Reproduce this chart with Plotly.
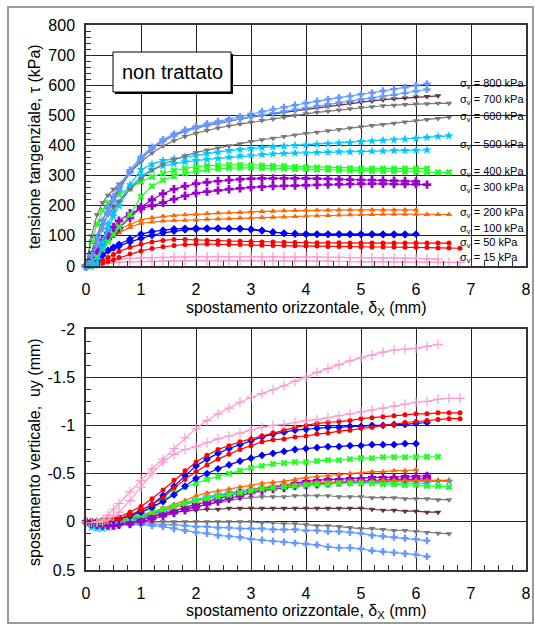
import plotly.graph_objects as go

W, H = 535, 630

# shared horizontal displacement grid (mm)
G = [0, 0.1, 0.2, 0.3, 0.4, 0.5, 0.6, 0.8, 1.0, 1.2,
     1.4, 1.6, 1.8, 2.0, 2.2, 2.4, 2.6, 2.8, 3.0, 3.2,
     3.4, 3.6, 3.8, 4.0, 4.2, 4.4, 4.6, 4.8, 5.0, 5.2,
     5.4, 5.6, 5.8, 6.0, 6.2, 6.4, 6.6, 6.8]

# ---------------- shear stress tau (kPa) ----------------
TAU_800A = [0, 35, 95, 150, 195, 232, 262, 318, 362, 395,
            420, 438, 452, 463, 472, 480, 488, 496, 505, 513,
            520, 527, 534, 541, 547, 553, 559, 564, 570, 575,
            581, 587, 593, 599, 605]
TAU_800B = [0, 20, 70, 125, 175, 215, 250, 310, 355, 390,
            415, 433, 447, 458, 467, 475, 482, 489, 495, 501,
            507, 513, 519, 525, 531, 537, 543, 548, 553, 558,
            563, 568, 574, 580, 586]
TAU_700 = [0, 45, 100, 150, 190, 225, 255, 310, 355, 390,
           415, 433, 447, 458, 466, 474, 481, 488, 494, 500,
           505, 510, 515, 520, 525, 530, 535, 540, 544, 548,
           552, 555, 558, 561, 563, 565]
TAU_600A = [0, 100, 170, 210, 235, 255, 272, 310, 345, 375,
            398, 416, 430, 441, 450, 458, 465, 471, 477, 483,
            488, 494, 500, 505, 510, 514, 518, 522, 526, 529,
            532, 534, 536, 538, 539, 540, 540]
TAU_600B = [0, 40, 90, 135, 170, 195, 215, 255, 290, 318,
            338, 353, 366, 377, 385, 392, 399, 406, 413, 419,
            424, 430, 435, 440, 444, 449, 453, 458, 462, 466,
            470, 474, 478, 482, 486, 490, 494]
TAU_500A = [0, 0, 10, 80, 140, 180, 210, 270, 320, 338,
            350, 356, 362, 368, 373, 378, 383, 387, 391, 393,
            396, 398, 400, 402, 404, 406, 408, 410, 413, 415,
            417, 419, 421, 424, 427, 430, 432]
TAU_500B = [0, 0, 5, 60, 120, 165, 200, 258, 300, 320,
            332, 340, 346, 350, 354, 357, 361, 365, 368, 370,
            372, 374, 375, 376, 377, 378, 379, 379, 380, 381,
            382, 383, 383, 384, 385]
TAU_400A = [0, 80, 140, 185, 210, 225, 237, 260, 280, 296,
            308, 317, 324, 330, 333, 335, 336, 336, 335, 334,
            333, 332, 330, 328, 327, 326, 325, 325, 324, 324,
            324, 324, 324, 324, 324]
TAU_400B = [0, 10, 30, 55, 80, 105, 130, 170, 230, 265,
            285, 298, 308, 315, 320, 323, 325, 326, 326, 325,
            324, 323, 322, 321, 320, 319, 318, 317, 316, 315,
            315, 314, 313, 312, 312, 311, 311]
TAU_300A = [0, 25, 50, 70, 90, 108, 125, 160, 195, 220,
            240, 255, 265, 273, 278, 282, 285, 288, 290, 291,
            291, 291, 291, 291, 290, 289, 288, 287, 286, 285,
            284, 283, 282, 281]
TAU_300B = [0, 30, 60, 85, 110, 130, 150, 175, 190, 200,
            210, 222, 233, 242, 247, 251, 255, 258, 261, 263,
            265, 266, 267, 268, 269, 270, 271, 272, 273, 273,
            273, 272, 272, 271, 270]
TAU_200A = [0, 20, 45, 80, 100, 112, 122, 138, 153, 160,
            165, 168, 170, 172, 174, 176, 177, 178, 180, 181,
            182, 183, 184, 185, 185, 185, 186, 186, 186, 186,
            186, 186, 186, 186]
TAU_200B = [0, 10, 30, 60, 85, 100, 110, 128, 142, 146,
            149, 151, 152, 153, 155, 156, 157, 159, 160, 161,
            162, 163, 164, 166, 167, 168, 169, 170, 171, 171,
            172, 172, 172, 172, 171, 171, 171]
TAU_100A = [0, 5, 20, 35, 50, 62, 72, 90, 106, 114,
            119, 123, 125, 126, 126, 126, 125, 124, 122, 118,
            112, 108, 107, 106, 106, 106, 106, 106, 106, 106,
            106, 106, 106, 106]
TAU_100B = [0, 15, 30, 42, 52, 60, 66, 80, 92, 102,
            110, 116, 120, 122, 123, 124, 124, 123, 121, 117,
            112, 109, 107, 106, 105, 105, 105, 105, 105, 105,
            104, 104, 104]
TAU_50A = [0, 3, 10, 18, 28, 38, 48, 62, 72, 80,
           85, 88, 88, 86, 85, 84, 83, 82, 81, 80,
           80, 79, 78, 78, 77, 77, 77, 76, 76, 76,
           76, 76, 76, 76, 76, 76, 76]
TAU_50B = [0, 2, 5, 9, 15, 21, 28, 40, 50, 58,
           64, 68, 71, 73, 73, 72, 71, 71, 70, 69,
           68, 68, 67, 66, 66, 65, 65, 64, 64, 63,
           63, 63, 62, 62, 61, 60, 60, 59]
TAU_15A = [0, 4, 10, 14, 18, 20, 22, 25, 27, 28,
           29, 30, 30, 31, 31, 31, 31, 31, 31, 31,
           31, 30, 30, 30, 30, 29, 29, 28, 28, 27,
           27, 26, 26, 25, 24, 23]
TAU_15B = [0, 2, 5, 7, 10, 12, 13, 14, 15, 16,
           17, 17, 18, 18, 18, 18, 18, 18, 18, 18,
           17, 17, 17, 16, 16, 16, 15, 15, 14, 14,
           14, 14, 13, 13, 13, 12, 12, 12]

# ---------------- vertical displacement uy (mm) ----------------
UY_800A = [0, 0.02, 0.03, 0.03, 0.03, 0.03, 0.03, 0.03, 0.02, 0.02,
           0.03, 0.03, 0.04, 0.05, 0.05, 0.06, 0.06, 0.07, 0.07, 0.07,
           0.08, 0.08, 0.08, 0.09, 0.09, 0.10, 0.10, 0.11, 0.12, 0.14,
           0.15, 0.16, 0.17, 0.18, 0.195]
UY_800B = [0, 0.02, 0.03, 0.03, 0.03, 0.03, 0.03, 0.03, 0.03, 0.04,
           0.05, 0.07, 0.09, 0.11, 0.12, 0.14, 0.15, 0.16, 0.18, 0.19,
           0.20, 0.21, 0.22, 0.23, 0.24, 0.26, 0.27, 0.27, 0.28, 0.30,
           0.31, 0.32, 0.33, 0.34, 0.36]
UY_700 = [0, 0.0, 0.0, -0.01, -0.01, -0.01, -0.02, -0.02, -0.04, -0.06,
          -0.08, -0.10, -0.11, -0.12, -0.13, -0.13, -0.14, -0.14, -0.14, -0.14,
          -0.14, -0.14, -0.14, -0.14, -0.14, -0.14, -0.14, -0.14, -0.14, -0.13,
          -0.12, -0.12, -0.11, -0.11, -0.10, -0.10]
UY_600A = [0, 0.0, 0.0, 0.0, -0.01, -0.01, -0.02, -0.03, -0.06, -0.08,
           -0.10, -0.12, -0.14, -0.16, -0.18, -0.20, -0.22, -0.24, -0.25, -0.26,
           -0.26, -0.26, -0.27, -0.27, -0.27, -0.27, -0.26, -0.26, -0.26, -0.25,
           -0.25, -0.25, -0.24, -0.24, -0.24, -0.23, -0.23]
UY_600B = [0, 0.0, 0.0, 0.0, 0.0, 0.0, 0.0, 0.0, 0.0, 0.0,
           0.0, 0.0, 0.0, 0.0, 0.0, 0.0, 0.0, 0.0, 0.0, 0.01,
           0.01, 0.02, 0.02, 0.03, 0.04, 0.04, 0.05, 0.06, 0.07, 0.07,
           0.08, 0.09, 0.09, 0.10, 0.11, 0.12, 0.125]
UY_500A = [0, 0.06, 0.07, 0.07, 0.06, 0.05, 0.03, 0.01, -0.03, -0.07,
           -0.11, -0.15, -0.19, -0.22, -0.25, -0.27, -0.29, -0.31, -0.33, -0.34,
           -0.35, -0.36, -0.37, -0.38, -0.39, -0.40, -0.40, -0.41, -0.41, -0.41,
           -0.42, -0.42, -0.42, -0.42, -0.42, -0.42, -0.42]
UY_500B = [0, 0.03, 0.04, 0.04, 0.03, 0.02, 0.01, -0.01, -0.04, -0.08,
           -0.12, -0.16, -0.20, -0.23, -0.26, -0.28, -0.30, -0.32, -0.34, -0.35,
           -0.36, -0.37, -0.38, -0.39, -0.40, -0.40, -0.41, -0.41, -0.41, -0.41,
           -0.41, -0.40, -0.40, -0.40, -0.40]
UY_400A = [0, 0.0, 0.0, -0.01, -0.01, -0.02, -0.03, -0.06, -0.10, -0.15,
           -0.22, -0.30, -0.36, -0.40, -0.44, -0.47, -0.50, -0.53, -0.56, -0.58,
           -0.60, -0.61, -0.62, -0.62, -0.63, -0.64, -0.64, -0.65, -0.66, -0.66,
           -0.67, -0.67, -0.67, -0.67, -0.675, -0.675]
UY_400B = [0, 0.0, 0.0, 0.0, -0.01, -0.01, -0.02, -0.04, -0.07, -0.10,
           -0.13, -0.16, -0.19, -0.22, -0.24, -0.26, -0.28, -0.30, -0.32, -0.34,
           -0.35, -0.36, -0.37, -0.38, -0.39, -0.39, -0.40, -0.40, -0.40, -0.40,
           -0.39, -0.39, -0.38, -0.38, -0.37, -0.37, -0.36]
UY_300A = [0, 0.01, 0.02, 0.03, 0.03, 0.03, 0.02, 0.01, -0.02, -0.05,
           -0.08, -0.11, -0.15, -0.18, -0.21, -0.24, -0.27, -0.30, -0.32, -0.34,
           -0.36, -0.38, -0.40, -0.42, -0.43, -0.44, -0.44, -0.45, -0.45, -0.46,
           -0.46, -0.46, -0.47, -0.47, -0.475]
UY_300B = [0, 0.02, 0.03, 0.04, 0.04, 0.04, 0.03, 0.02, 0.0, -0.03,
           -0.06, -0.09, -0.12, -0.15, -0.18, -0.21, -0.24, -0.27, -0.30, -0.32,
           -0.34, -0.35, -0.37, -0.38, -0.39, -0.40, -0.41, -0.42, -0.42, -0.43,
           -0.43, -0.44, -0.44, -0.44, -0.45]
UY_200A = [0, 0.0, 0.0, -0.01, -0.01, -0.02, -0.03, -0.05, -0.07, -0.10,
           -0.14, -0.18, -0.22, -0.27, -0.30, -0.32, -0.34, -0.36, -0.38, -0.40,
           -0.41, -0.42, -0.44, -0.46, -0.47, -0.48, -0.49, -0.50, -0.51, -0.52,
           -0.52, -0.53, -0.53, -0.54]
UY_200B = [0, 0.0, 0.0, -0.01, -0.01, -0.01, -0.02, -0.04, -0.06, -0.09,
           -0.12, -0.15, -0.18, -0.21, -0.24, -0.26, -0.28, -0.30, -0.33, -0.35,
           -0.37, -0.38, -0.39, -0.40, -0.41, -0.41, -0.41, -0.42, -0.42, -0.42,
           -0.43, -0.43, -0.43, -0.43, -0.43, -0.43, -0.43]
UY_100A = [0, 0.0, 0.0, -0.01, -0.01, -0.02, -0.03, -0.07, -0.12, -0.18,
           -0.27, -0.37, -0.48, -0.58, -0.65, -0.71, -0.76, -0.80, -0.84, -0.88,
           -0.91, -0.93, -0.95, -0.96, -0.97, -0.98, -0.98, -0.99, -0.99, -1.00,
           -1.00, -1.01, -1.01, -1.02, -1.03]
UY_100B = [0, 0.0, 0.0, -0.01, -0.01, -0.02, -0.03, -0.06, -0.10, -0.15,
           -0.21, -0.28, -0.37, -0.45, -0.50, -0.55, -0.59, -0.63, -0.66, -0.69,
           -0.71, -0.73, -0.75, -0.76, -0.77, -0.78, -0.78, -0.79, -0.79, -0.80,
           -0.80, -0.80, -0.81, -0.81]
UY_50A = [0, 0.0, 0.0, -0.01, -0.02, -0.03, -0.05, -0.10, -0.16, -0.24,
          -0.33, -0.43, -0.53, -0.62, -0.69, -0.75, -0.79, -0.83, -0.86, -0.89,
          -0.92, -0.95, -0.98, -1.00, -1.02, -1.03, -1.04, -1.05, -1.07, -1.08,
          -1.09, -1.10, -1.11, -1.12, -1.12, -1.13, -1.13, -1.13]
UY_50B = [0, 0.0, 0.0, -0.01, -0.01, -0.02, -0.03, -0.07, -0.12, -0.18,
          -0.25, -0.35, -0.44, -0.52, -0.59, -0.65, -0.70, -0.75, -0.79, -0.83,
          -0.85, -0.86, -0.88, -0.89, -0.91, -0.92, -0.94, -0.95, -0.97, -0.98,
          -1.00, -1.01, -1.03, -1.04, -1.05, -1.06, -1.07, -1.07]
UY_15A = [0, 0.0, 0.0, -0.02, -0.07, -0.13, -0.19, -0.31, -0.43, -0.55,
          -0.65, -0.76, -0.87, -0.97, -1.05, -1.12, -1.18, -1.24, -1.29, -1.33,
          -1.37, -1.41, -1.46, -1.50, -1.55, -1.59, -1.63, -1.67, -1.70, -1.73,
          -1.76, -1.78, -1.79, -1.80, -1.82, -1.84]
UY_15B = [0, 0.0, 0.0, 0.0, -0.02, -0.06, -0.10, -0.22, -0.36, -0.50,
          -0.62, -0.70, -0.75, -0.78, -0.82, -0.86, -0.89, -0.92, -0.95, -0.98,
          -1.00, -1.01, -1.03, -1.05, -1.06, -1.08, -1.10, -1.12, -1.14, -1.16,
          -1.18, -1.20, -1.22, -1.24, -1.25, -1.27, -1.28, -1.28]

# ---------------- labels ----------------
SIGMA_LABELS = ["800", "700", "600", "500", "400", "300", "200", "100", "50", "15"]
X_TICKS = [0, 1, 2, 3, 4, 5, 6, 7, 8]
UY_TICKVALS = [-2, -1.5, -1, -0.5, 0, 0.5]
UY_TICKTEXT = ["-2", "-1.5", "-1", "-0.5", "0", "0.5"]

STYLE = {
    "800": ("#6699FF", "cross", 6, 0),
    "700": ("#663333", "triangle-down", 6, 0),
    "600": ("#777777", "triangle-down", 6, 0),
    "500": ("#00C8FF", "star", 7, 0),
    "400": ("#22FF22", "x", 6, 0),
    "300": ("#9900CC", "cross", 7, 0),
    "200": ("#FF6600", "triangle-up", 6, 0),
    "100": ("#0000FF", "diamond", 6, 0),
    "50": ("#FF0000", "circle", 5, 0),
    "15": ("#FF99CC", "cross-thin-open", 7, 1.2),
}

TOP = [("15", TAU_15A), ("15", TAU_15B), ("50", TAU_50A), ("50", TAU_50B),
       ("100", TAU_100A), ("100", TAU_100B), ("200", TAU_200A), ("200", TAU_200B),
       ("300", TAU_300A), ("300", TAU_300B), ("400", TAU_400A), ("400", TAU_400B),
       ("500", TAU_500A), ("500", TAU_500B), ("600", TAU_600A), ("600", TAU_600B),
       ("700", TAU_700), ("800", TAU_800A), ("800", TAU_800B)]
BOT = [("800", UY_800A), ("800", UY_800B), ("700", UY_700), ("600", UY_600A),
       ("600", UY_600B), ("500", UY_500A), ("500", UY_500B), ("300", UY_300A),
       ("300", UY_300B), ("200", UY_200A), ("200", UY_200B), ("400", UY_400A),
       ("400", UY_400B), ("100", UY_100A), ("100", UY_100B), ("50", UY_50A),
       ("50", UY_50B), ("15", UY_15A), ("15", UY_15B)]

fig = go.Figure()


def add(key, ys, xa, ya):
    col, sym, size, lw = STYLE[key]
    fig.add_trace(go.Scatter(
        x=G[:len(ys)], y=ys, xaxis=xa, yaxis=ya, mode="lines+markers",
        line=dict(color=col, width=1.2),
        marker=dict(symbol=sym, size=size, color=col, line=dict(color=col, width=lw)),
        cliponaxis=False, showlegend=False, hoverinfo="skip"))


for k, ys in TOP:
    add(k, ys, "x", "y")
for k, ys in BOT:
    add(k, ys, "x2", "y2")


def px(x):
    return x / W


def py(y):
    return 1 - y / H


FONT = "Liberation Sans, Arial, sans-serif"
TICKF = dict(family=FONT, size=16, color="black")
grid = dict(showgrid=True, gridcolor="#222222", gridwidth=1, zeroline=False,
            showline=True, linecolor="#333333", linewidth=1.5, mirror=True,
            ticks="inside", ticklen=6, tickcolor="#333333", tickfont=TICKF,
            automargin=False)

xdom = [px(86), px(526)]
fig.update_layout(
    template="none",
    width=W, height=H, margin=dict(l=0, r=0, t=0, b=0, pad=0, autoexpand=False),
    autosize=False,
    paper_bgcolor="white", plot_bgcolor="white", showlegend=False,
    xaxis=dict(domain=xdom, anchor="y", range=[0, 8], tickvals=X_TICKS,
               ticklabelstandoff=8,
               minor=dict(dtick=0.25, ticks="inside", ticklen=5, tickcolor="#333333"), **grid),
    yaxis=dict(domain=[py(266), py(25)], anchor="x", range=[0, 800], dtick=100,
               ticklabelstandoff=6,
               minor=dict(dtick=20, ticks="inside", ticklen=5, tickcolor="#333333"), **grid),
    xaxis2=dict(domain=xdom, anchor="y2", range=[0, 8], tickvals=X_TICKS,
                ticklabelstandoff=8,
                minor=dict(dtick=0.25, ticks="inside", ticklen=5, tickcolor="#333333"), **grid),
    yaxis2=dict(domain=[py(570), py(329)], anchor="x2", range=[0.5, -2],
                tickvals=UY_TICKVALS, ticktext=UY_TICKTEXT, ticklabelstandoff=6,
                minor=dict(tick0=0, dtick=0.125, ticks="inside", ticklen=5, tickcolor="#333333"), **grid),
)

ann = []
XT = "spostamento orizzontale, δ<sub>X</sub> (mm)"
ann.append(dict(x=px(306), y=py(308), text=XT, font=dict(family=FONT, size=16)))
ann.append(dict(x=px(306), y=py(611), text=XT, font=dict(family=FONT, size=16)))
ann.append(dict(x=px(34), y=py(147), text="tensione tangenziale, τ (kPa)", textangle=-90,
                font=dict(family=FONT, size=16)))
ann.append(dict(x=px(34), y=py(452), text="spostamento verticale,  uy (mm)", textangle=-90,
                font=dict(family=FONT, size=16)))
ann.append(dict(x=px(172), y=py(72), text="non trattato",
                font=dict(family="Liberation Sans Narrow, Arial Narrow, Liberation Sans, sans-serif",
                          size=20, color="black")))
LAB_Y = [84, 100, 117, 145, 172, 188, 213, 229, 243, 258]
for lab, yy in zip(SIGMA_LABELS, LAB_Y):
    ann.append(dict(x=px(458), y=py(yy), xanchor="left",
                    text="σ<sub>v</sub> = " + lab + " kPa",
                    font=dict(family=FONT, size=11, color="black")))
for a in ann:
    a.setdefault("xref", "paper")
    a.setdefault("yref", "paper")
    a.setdefault("xanchor", "center")
    a.setdefault("yanchor", "middle")
    a.setdefault("showarrow", False)
    a["font"].setdefault("color", "black")
fig.update_layout(annotations=ann)

shapes = [
    dict(type="rect", xref="paper", yref="paper", x0=px(8), x1=px(533), y0=py(623), y1=py(7),
         line=dict(color="#9a9a9a", width=2), layer="below"),
    dict(type="rect", xref="paper", yref="paper", x0=px(115), x1=px(233), y0=py(94), y1=py(54),
         line=dict(width=0), fillcolor="black", layer="above"),
    dict(type="rect", xref="paper", yref="paper", x0=px(113), x1=px(231), y0=py(92), y1=py(52),
         line=dict(color="black", width=1), fillcolor="white", layer="above"),
]
fig.update_layout(shapes=shapes)

fig.write_html("out.html", config={"displayModeBar": False})
